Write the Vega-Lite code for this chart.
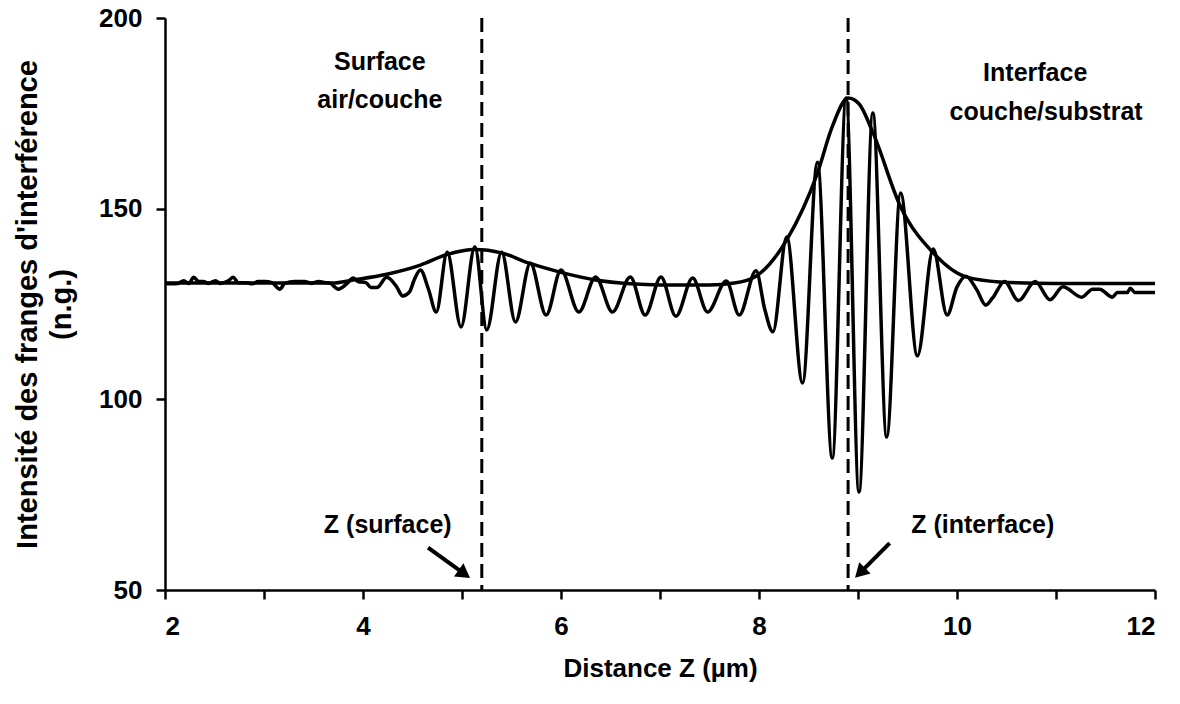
{
  "$schema": "https://vega.github.io/schema/vega-lite/v6.json",
  "width": 990,
  "height": 572,
  "autosize": "none",
  "padding": {"left": 165, "top": 18, "right": 25, "bottom": 114},
  "background": "white",
  "config": {
    "view": {"stroke": null},
    "font": "Liberation Sans",
    "axis": {
      "grid": false,
      "domainColor": "black",
      "domainWidth": 2.5,
      "tickColor": "black",
      "tickWidth": 2.5,
      "tickSize": 9,
      "labelFont": "Liberation Sans",
      "labelFontSize": 26,
      "labelFontWeight": "bold",
      "labelColor": "black",
      "titleFont": "Liberation Sans",
      "titleFontSize": 26,
      "titleFontWeight": "bold",
      "titleColor": "black"
    }
  },
  "datasets": {
    "signal": [
      {"z": 2.00, "v": 130.4}, {"z": 2.07, "v": 130.3}, {"z": 2.13, "v": 130.4}, {"z": 2.19, "v": 131.1},
      {"z": 2.24, "v": 130.4}, {"z": 2.29, "v": 132.0}, {"z": 2.34, "v": 130.9}, {"z": 2.39, "v": 130.9},
      {"z": 2.44, "v": 130.4}, {"z": 2.51, "v": 131.1}, {"z": 2.56, "v": 130.4}, {"z": 2.64, "v": 131.1},
      {"z": 2.69, "v": 132.0}, {"z": 2.74, "v": 130.6}, {"z": 2.82, "v": 130.6}, {"z": 2.88, "v": 130.3},
      {"z": 2.94, "v": 130.9}, {"z": 3.01, "v": 130.9}, {"z": 3.08, "v": 130.6}, {"z": 3.16, "v": 128.9},
      {"z": 3.21, "v": 130.4}, {"z": 3.31, "v": 130.9}, {"z": 3.41, "v": 130.9}, {"z": 3.48, "v": 130.4},
      {"z": 3.55, "v": 130.9}, {"z": 3.62, "v": 130.6}, {"z": 3.67, "v": 130.4}, {"z": 3.75, "v": 128.9},
      {"z": 3.84, "v": 130.4}, {"z": 3.90, "v": 131.8}, {"z": 3.95, "v": 130.9}, {"z": 4.03, "v": 130.6},
      {"z": 4.08, "v": 129.3}, {"z": 4.14, "v": 129.3}, {"z": 4.24, "v": 132.0}, {"z": 4.34, "v": 129.5},
      {"z": 4.40, "v": 127.1}, {"z": 4.47, "v": 128.2}, {"z": 4.52, "v": 131.5}, {"z": 4.58, "v": 133.9},
      {"z": 4.66, "v": 129.0}, {"z": 4.74, "v": 122.9}, {"z": 4.85, "v": 138.6}, {"z": 4.99, "v": 119.0},
      {"z": 5.13, "v": 140.0}, {"z": 5.25, "v": 118.2}, {"z": 5.40, "v": 138.6}, {"z": 5.54, "v": 120.3},
      {"z": 5.69, "v": 135.7}, {"z": 5.85, "v": 122.1}, {"z": 6.00, "v": 133.9}, {"z": 6.18, "v": 122.9},
      {"z": 6.35, "v": 132.1}, {"z": 6.52, "v": 122.9}, {"z": 6.70, "v": 132.1}, {"z": 6.85, "v": 122.1},
      {"z": 7.01, "v": 132.1}, {"z": 7.16, "v": 121.8}, {"z": 7.33, "v": 131.8}, {"z": 7.48, "v": 122.9},
      {"z": 7.67, "v": 131.0}, {"z": 7.80, "v": 122.1}, {"z": 7.97, "v": 133.7}, {"z": 8.06, "v": 123.4},
      {"z": 8.14, "v": 117.7}, {"z": 8.28, "v": 142.6}, {"z": 8.44, "v": 104.3}, {"z": 8.59, "v": 162.2},
      {"z": 8.74, "v": 84.6}, {"z": 8.88, "v": 179.0}, {"z": 9.01, "v": 75.7}, {"z": 9.15, "v": 175.1},
      {"z": 9.29, "v": 90.1}, {"z": 9.43, "v": 154.1}, {"z": 9.60, "v": 111.4}, {"z": 9.76, "v": 139.4},
      {"z": 9.90, "v": 122.1}, {"z": 10.00, "v": 129.5}, {"z": 10.09, "v": 132.3}, {"z": 10.20, "v": 128.7},
      {"z": 10.29, "v": 124.7}, {"z": 10.36, "v": 126.6}, {"z": 10.48, "v": 130.9}, {"z": 10.62, "v": 125.9},
      {"z": 10.79, "v": 130.9}, {"z": 10.94, "v": 126.1}, {"z": 11.07, "v": 129.5}, {"z": 11.26, "v": 126.8},
      {"z": 11.37, "v": 128.9}, {"z": 11.44, "v": 128.9}, {"z": 11.57, "v": 126.8}, {"z": 11.62, "v": 128.0},
      {"z": 11.72, "v": 128.0}, {"z": 11.75, "v": 129.1}, {"z": 11.80, "v": 128.0}, {"z": 12.00, "v": 128.0}
    ],
    "envelope": [
      {"z": 2.00, "v": 130.5}, {"z": 3.00, "v": 130.5}, {"z": 3.69, "v": 130.5}, {"z": 3.90, "v": 131.3},
      {"z": 4.24, "v": 132.8}, {"z": 4.58, "v": 135.2}, {"z": 4.85, "v": 138.0}, {"z": 5.13, "v": 139.3},
      {"z": 5.40, "v": 138.4}, {"z": 5.68, "v": 135.7}, {"z": 6.00, "v": 133.3}, {"z": 6.35, "v": 131.3},
      {"z": 6.70, "v": 130.3}, {"z": 7.00, "v": 130.0}, {"z": 7.50, "v": 130.0}, {"z": 7.75, "v": 130.5},
      {"z": 7.97, "v": 132.3}, {"z": 8.28, "v": 141.8}, {"z": 8.59, "v": 159.3}, {"z": 8.74, "v": 171.5},
      {"z": 8.90, "v": 179.0}, {"z": 9.01, "v": 177.5}, {"z": 9.15, "v": 170.0}, {"z": 9.43, "v": 150.5},
      {"z": 9.76, "v": 138.4}, {"z": 10.09, "v": 132.1}, {"z": 10.43, "v": 130.8}, {"z": 11.00, "v": 130.4},
      {"z": 12.00, "v": 130.4}
    ],
    "markers": [{"z": 5.2}, {"z": 8.9}],
    "labels": [
      {"z": 4.17, "v": 188.5, "t": "Surface"},
      {"z": 4.17, "v": 178.5, "t": "air/couche"},
      {"z": 10.79, "v": 185.6, "t": "Interface"},
      {"z": 10.9, "v": 175.4, "t": "couche/substrat"},
      {"z": 4.25, "v": 67.0, "t": "Z (surface)"},
      {"z": 10.26, "v": 67.0, "t": "Z (interface)"}
    ],
    "arrows": [
      {"name": "surface", "z": 4.657, "v": 61.1, "z2": 5.024, "v2": 54.2},
      {"name": "interface", "z": 9.32, "v": 62.3, "z2": 9.02, "v2": 54.5}
    ]
  },
  "layer": [
    {
      "data": {"name": "markers"},
      "mark": {"type": "rule", "color": "black", "strokeWidth": 3, "strokeDash": [14, 7]},
      "encoding": {
        "x": {"field": "z", "type": "quantitative", "scale": {"domain": [2, 12], "nice": false}}
      }
    },
    {
      "data": {"name": "envelope"},
      "mark": {"type": "line", "color": "black", "strokeWidth": 3.5, "interpolate": "monotone"},
      "encoding": {
        "x": {"field": "z", "type": "quantitative", "scale": {"domain": [2, 12], "nice": false},
          "axis": {"values": [2, 3, 4, 5, 6, 7, 8, 9, 10, 11, 12], "format": "d",
            "labelExpr": "datum.value % 2 == 0 ? datum.label : ''",
            "title": "Distance Z (µm)", "labelPadding": 14, "titlePadding": 16}},
        "y": {"field": "v", "type": "quantitative", "scale": {"domain": [50, 200], "nice": false},
          "axis": {"values": [50, 100, 150, 200], "format": "d",
            "title": ["Intensité des franges d'interférence", "(n.g.)"],
            "titleFontSize": 29, "titleLineHeight": 34,
            "labelPadding": 14, "titlePadding": 22}}
      }
    },
    {
      "data": {"name": "signal"},
      "mark": {"type": "line", "color": "black", "strokeWidth": 3.5, "interpolate": "monotone"},
      "encoding": {
        "x": {"field": "z", "type": "quantitative"},
        "y": {"field": "v", "type": "quantitative"}
      }
    },
    {
      "data": {"name": "labels"},
      "mark": {"type": "text", "font": "Liberation Sans", "fontSize": 25, "fontWeight": "bold", "color": "black", "align": "center", "baseline": "middle"},
      "encoding": {
        "x": {"field": "z", "type": "quantitative"},
        "y": {"field": "v", "type": "quantitative"},
        "text": {"field": "t"}
      }
    },
    {
      "data": {"name": "arrows"},
      "mark": {"type": "rule", "color": "black", "strokeWidth": 4},
      "encoding": {
        "x": {"field": "z", "type": "quantitative"},
        "y": {"field": "v", "type": "quantitative"},
        "x2": {"field": "z2"},
        "y2": {"field": "v2"}
      }
    },
    {
      "data": {"name": "arrows"},
      "transform": [{"filter": "datum.name == 'surface'"}],
      "mark": {"type": "point", "shape": "triangle-right", "filled": true, "color": "black", "opacity": 1, "size": 260, "angle": 36},
      "encoding": {
        "x": {"field": "z2", "type": "quantitative"},
        "y": {"field": "v2", "type": "quantitative"}
      }
    },
    {
      "data": {"name": "arrows"},
      "transform": [{"filter": "datum.name == 'interface'"}],
      "mark": {"type": "point", "shape": "triangle-right", "filled": true, "color": "black", "opacity": 1, "size": 260, "angle": 135},
      "encoding": {
        "x": {"field": "z2", "type": "quantitative"},
        "y": {"field": "v2", "type": "quantitative"}
      }
    }
  ]
}
